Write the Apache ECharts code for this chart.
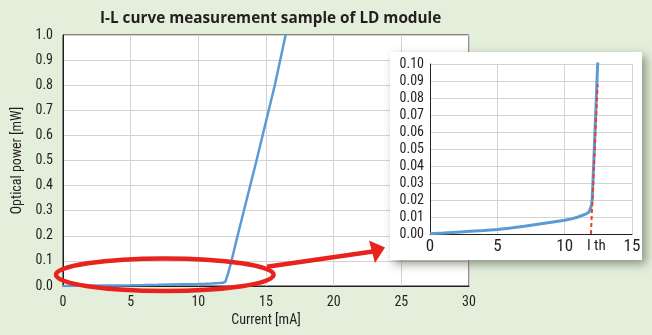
<!DOCTYPE html>
<html><head><meta charset="utf-8">
<script src="https://cdn.jsdelivr.net/npm/echarts@6/dist/echarts.min.js"></script>
<style>html,body{margin:0;padding:0;background:#e3eedb;}#c{width:652px;height:335px;}</style>
</head><body><div id="c"></div>
<script>
// ---- data ----
const currentMA = [0, 1, 2, 3, 4, 5, 6, 7, 8, 9, 10, 10.5, 11, 11.5, 11.8, 11.9, 12.0, 12.05, 12.2, 12.45, 12.9, 14.3, 15.65, 16.45];
const powerMW   = [0.0002, 0.0006, 0.0011, 0.0016, 0.0021, 0.0027, 0.0035, 0.0045, 0.0057, 0.0069, 0.0081, 0.0089, 0.0100, 0.0115, 0.0128, 0.0138, 0.017, 0.021, 0.05, 0.10, 0.2, 0.5, 0.8, 1.0];
const ithLineI = [11.95, 12.45];
const ithLineP = [0, 0.088];
const ithLabelX = 12.35;
const mainXRange = [0, 30, 5];
const mainYRange = [0, 1.0, 0.1];
const insetXRange = [0, 15, 5];
const insetYRange = [0, 0.10, 0.01];
const titleText = 'I-L curve measurement sample of LD module';
const xName = 'Current [mA]';
const yName = 'Optical power [mW]';
const ithText = 'I th';

const curve = currentMA.map((x, i) => [x, powerMW[i]]);
const ithLine = ithLineI.map((x, i) => [x, ithLineP[i]]);

const FONT = '"Roboto Condensed", "Liberation Sans Narrow", "DejaVu Sans Condensed", "Liberation Sans", sans-serif';
const TXT = '#231f20';
const GRIDC = '#d3d3d3';
const BLUE = '#5b9bd5';
const RED = '#e8231d';

const chart = echarts.init(document.getElementById('c'), null, {renderer: 'canvas'});

function valAxis(gi, r, dec, extra) {
  return Object.assign({
    gridIndex: gi, type: 'value', min: r[0], max: r[1], interval: r[2],
    axisLine: {show: true, onZero: false, lineStyle: {color: TXT, width: 1}},
    axisTick: {show: false},
    splitLine: {show: true, showMinLine: false, lineStyle: {color: GRIDC, width: 1}},
    axisLabel: {color: TXT, fontFamily: FONT, fontSize: 14, formatter: v => v.toFixed(dec)}
  }, extra || {});
}

const option = {
  backgroundColor: '#e3eedb',
  animation: false,
  title: {text: titleText, left: 95, top: 6,
    textStyle: {fontFamily: '"Open Sans", sans-serif', fontWeight: 'bold', fontSize: 15.3, color: TXT}},
  grid: [
    {left: 63, top: 35, right: 183, bottom: 49, show: true, backgroundColor: '#fff', borderColor: TXT, borderWidth: 1},
    {left: 430, top: 64, right: 20, bottom: 101, show: false}
  ],
  xAxis: [
    valAxis(0, mainXRange, 0, {name: xName, nameLocation: 'middle', nameGap: 23,
      nameTextStyle: {color: TXT, fontFamily: FONT, fontSize: 14},
      axisLabel: {color: TXT, fontFamily: FONT, fontSize: 14, margin: 9, formatter: v => v.toFixed(0)}}),
    valAxis(1, insetXRange, 0, {z: 4,
      axisLabel: {color: TXT, fontFamily: FONT, fontSize: 17, margin: 4, formatter: v => v.toFixed(0)}})
  ],
  yAxis: [
    valAxis(0, mainYRange, 1, {name: yName, nameLocation: 'middle', nameGap: 34,
      nameTextStyle: {color: TXT, fontFamily: FONT, fontSize: 14},
      axisLabel: {color: TXT, fontFamily: FONT, fontSize: 14, margin: 10, formatter: v => v.toFixed(1)}}),
    valAxis(1, insetYRange, 2, {z: 4,
      axisLabel: {color: TXT, fontFamily: FONT, fontSize: 14, margin: 6, formatter: v => v.toFixed(2)}})
  ],
  series: [
    {type: 'line', xAxisIndex: 0, yAxisIndex: 0, data: curve, showSymbol: false, z: 2,
      lineStyle: {color: BLUE, width: 2.5}},
    {type: 'line', xAxisIndex: 1, yAxisIndex: 1, data: curve, showSymbol: false, z: 5,
      lineStyle: {color: BLUE, width: 3}},
    {type: 'line', xAxisIndex: 1, yAxisIndex: 1, data: ithLine, showSymbol: false, z: 6,
      lineStyle: {color: '#ee4028', width: 2, type: [4, 3]}}
  ]
};
chart.setOption(option);

// annotations placed from data coordinates
const c0 = chart.convertToPixel({xAxisIndex: 0, yAxisIndex: 0}, [7.52, 0.045]);
const e1 = chart.convertToPixel({xAxisIndex: 0, yAxisIndex: 0}, [7.52 + 8.04, 0.045 + 0.0645]);
const rx = e1[0] - c0[0], ry = c0[1] - e1[1];
const lab = chart.convertToPixel({xAxisIndex: 1, yAxisIndex: 1}, [ithLabelX, 0]);

chart.setOption({
  graphic: [
    {type: 'rect', z: 3, shape: {x: 390, y: 52, width: 252, height: 208},
      style: {fill: '#ffffff', shadowBlur: 9, shadowOffsetX: 4, shadowOffsetY: 4, shadowColor: 'rgba(50,60,40,0.5)'}},
    {type: 'text', z: 7, x: lab[0], y: lab[1] + 5,
      style: {text: ithText, fill: TXT, font: '15px ' + FONT, align: 'center', verticalAlign: 'top'}},
    {type: 'ellipse', z: 10, shape: {cx: c0[0], cy: c0[1], rx: rx, ry: ry},
      style: {fill: 'none', stroke: RED, lineWidth: 4.5}},
    {type: 'polyline', z: 10, shape: {points: [[267, 266.7], [373, 251.5]]},
      style: {stroke: RED, lineWidth: 4.5}},
    {type: 'polygon', z: 10, shape: {points: [[385, 247.5], [369, 240.5], [375, 263]]},
      style: {fill: RED}}
  ]
});
</script>
</body></html>
